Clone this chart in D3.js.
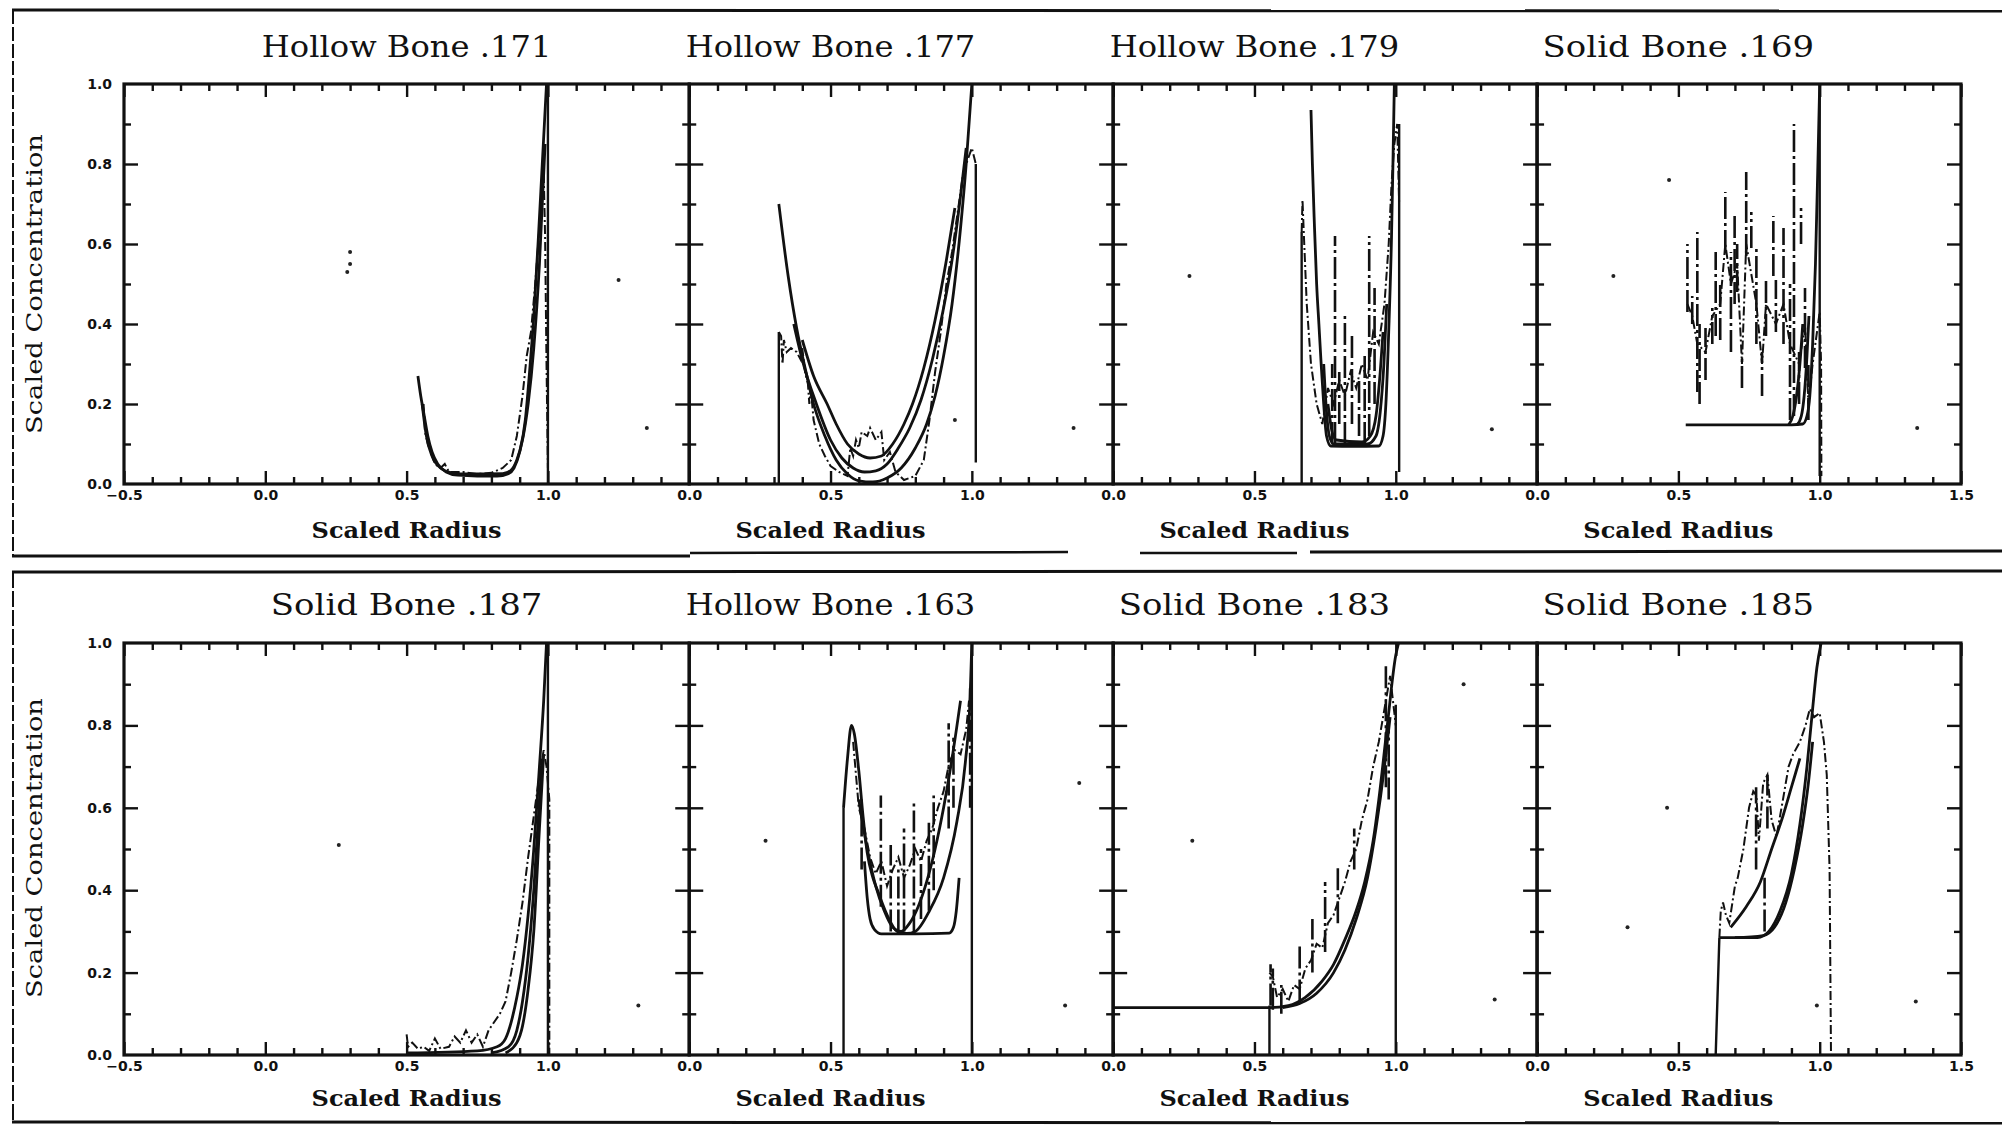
<!DOCTYPE html>
<html>
<head>
<meta charset="utf-8">
<script src="https://cdn.jsdelivr.net/npm/d3@7"></script>
<style>
  body { margin: 0; background: #fff; }
  svg { display: block; background: #fff; }
  .title { font-family: "DejaVu Serif", serif; font-size: 30px; fill: #111; }
  .xlab { font-family: "DejaVu Serif", serif; font-size: 23px; font-weight: bold; fill: #111; }
  .ylab { font-family: "DejaVu Serif", serif; font-size: 23px; fill: #111; }
  .tick text { font-family: "DejaVu Sans", sans-serif; font-size: 14px; font-weight: bold; fill: #111; }
  .tick line { stroke: #111; stroke-width: 2.4; }
</style>
</head>
<body>
<svg id="chart" width="2002" height="1126"></svg>
<script>
// panel titles, left to right, top row then bottom row
const titles = ["Hollow Bone .171", "Hollow Bone .177", "Hollow Bone .179", "Solid Bone .169",
                "Solid Bone .187", "Hollow Bone .163", "Solid Bone .183", "Solid Bone .185"];

const yTickLabels = [0.0, 0.2, 0.4, 0.6, 0.8, 1.0];
const xTickLabelsFirst = [-0.5, 0.0, 0.5, 1.0];
const xTickLabelsMid = [0.0, 0.5, 1.0];
const xTickLabelsLast = [0.0, 0.5, 1.0, 1.5];

// ---- Hollow Bone .171
const walls171 = [[[1.0, 0], [1.0, 1.0]]];
const model171a = [[0.54,0.27],[0.55,0.22],[0.56,0.18],[0.575,0.12],[0.59,0.08],[0.61,0.05],[0.64,0.03],[0.68,0.022],[0.75,0.02],[0.82,0.02],[0.86,0.026],[0.88,0.04],[0.90,0.08],[0.92,0.16],[0.935,0.28],[0.95,0.42],[0.965,0.6],[0.98,0.8],[0.995,1.0]];
const model171b = [[0.555,0.2],[0.57,0.12],[0.59,0.07],[0.62,0.04],[0.66,0.028],[0.72,0.025],[0.84,0.026],[0.87,0.035],[0.89,0.06],[0.91,0.11],[0.93,0.2],[0.95,0.34],[0.97,0.55],[0.99,0.85]];
const meas171 = [[0.56,0.2],[0.565,0.13],[0.575,0.1],[0.59,0.07],[0.60,0.05],[0.62,0.04],[0.635,0.05],[0.65,0.03],[0.70,0.03],[0.75,0.025],[0.80,0.028],[0.84,0.04],[0.87,0.06],[0.89,0.12],[0.91,0.22],[0.925,0.32],[0.94,0.38],[0.955,0.5],[0.97,0.64],[0.985,0.78],[0.99,0.62],[0.995,0.3],[1.0,0.04]];
const spikes171 = [];
const specks171 = [[0.30,0.58],[0.30,0.55],[0.29,0.53],[1.25,0.51],[1.35,0.14]];

// ---- Hollow Bone .177
const walls177 = [[[0.317, 0], [0.317, 0.38]], [[1.014, 0.054], [1.014, 0.80]]];
const model177a = [[0.317,0.70],[0.35,0.52],[0.38,0.39],[0.41,0.29],[0.44,0.20],[0.48,0.12],[0.52,0.06],[0.56,0.025],[0.60,0.008],[0.65,0.005],[0.70,0.015],[0.75,0.04],[0.80,0.09],[0.84,0.15],[0.87,0.22],[0.90,0.32],[0.93,0.45],[0.96,0.64],[0.98,0.8],[1.0,1.0]];
const model177b = [[0.37,0.40],[0.40,0.31],[0.45,0.2],[0.50,0.11],[0.54,0.065],[0.58,0.04],[0.62,0.03],[0.66,0.033],[0.70,0.05],[0.74,0.09],[0.78,0.14],[0.82,0.21],[0.86,0.31],[0.90,0.44],[0.93,0.56],[0.96,0.72],[0.98,0.84]];
const model177c = [[0.40,0.36],[0.44,0.27],[0.488,0.2],[0.52,0.15],[0.56,0.1],[0.60,0.075],[0.64,0.065],[0.68,0.07],[0.72,0.1],[0.76,0.15],[0.79,0.2],[0.83,0.29],[0.87,0.41],[0.91,0.56],[0.94,0.69]];
const meas177 = [[0.317,0.38],[0.325,0.37],[0.33,0.3],[0.335,0.36],[0.345,0.33],[0.36,0.34],[0.38,0.33],[0.395,0.31],[0.40,0.34],[0.41,0.28],[0.42,0.25],[0.425,0.2],[0.43,0.24],[0.44,0.16],[0.46,0.1],[0.48,0.07],[0.50,0.045],[0.53,0.03],[0.56,0.02],[0.57,0.09],[0.58,0.07],[0.59,0.11],[0.60,0.09],[0.61,0.13],[0.63,0.12],[0.64,0.14],[0.66,0.11],[0.68,0.13],[0.69,0.06],[0.71,0.08],[0.73,0.03],[0.76,0.01],[0.80,0.02],[0.83,0.06],[0.85,0.16],[0.87,0.28],[0.89,0.38],[0.91,0.5],[0.93,0.58],[0.95,0.68],[0.97,0.78],[0.99,0.82],[1.0,0.84],[1.014,0.80]];
const spikes177 = [];
const specks177 = [[0.94,0.16],[1.36,0.14]];

// ---- Hollow Bone .179
const walls179 = [[[0.667, 0], [0.667, 0.63]], [[1.012, 0.03], [1.012, 0.9]]];
const model179a = [[0.70,0.935],[0.705,0.8],[0.712,0.65],[0.72,0.5],[0.728,0.4],[0.736,0.3],[0.745,0.2],[0.755,0.12],[0.77,0.095],[0.85,0.094],[0.94,0.095],[0.955,0.12],[0.965,0.2],[0.975,0.38],[0.985,0.62],[0.99,0.8],[0.995,1.0]];
const model179b = [[0.745,0.3],[0.755,0.18],[0.765,0.12],[0.78,0.1],[0.9,0.1],[0.93,0.12],[0.945,0.18],[0.958,0.3],[0.968,0.45]];
const model179c = [[0.76,0.2],[0.775,0.13],[0.79,0.11],[0.88,0.105],[0.91,0.12],[0.93,0.17],[0.945,0.28],[0.955,0.38]];
const meas179 = [[0.667,0.63],[0.67,0.71],[0.675,0.62],[0.685,0.45],[0.70,0.3],[0.72,0.2],[0.74,0.15],[0.76,0.24],[0.78,0.2],[0.80,0.26],[0.82,0.22],[0.84,0.28],[0.86,0.24],[0.88,0.3],[0.90,0.26],[0.92,0.38],[0.94,0.35],[0.96,0.45],[0.975,0.6],[0.985,0.75],[0.995,0.85],[1.005,0.9],[1.012,0.7]];
const spikes179 = [[0.785,0.1,0.62],[0.82,0.1,0.43],[0.845,0.15,0.37],[0.89,0.1,0.33],[0.906,0.12,0.62],[0.925,0.2,0.49],[0.775,0.1,0.3],[0.80,0.15,0.28],[0.87,0.12,0.26]];
const specks179 = [[0.27,0.52],[1.34,0.137]];

// ---- Solid Bone .169
const walls169 = [[[1.0, 0.02], [1.0, 1.0]]];
const model169a = [[0.526,0.148],[0.9,0.148],[0.94,0.15],[0.955,0.17],[0.965,0.22],[0.975,0.35],[0.985,0.55],[0.993,0.78],[1.0,1.0]];
const model169b = [[0.89,0.148],[0.905,0.17],[0.918,0.22],[0.93,0.3],[0.94,0.4]];
const model169c = [[0.92,0.148],[0.935,0.17],[0.945,0.22],[0.955,0.32],[0.962,0.42]];
const meas169 = [[0.532,0.45],[0.549,0.42],[0.567,0.35],[0.596,0.33],[0.62,0.42],[0.648,0.45],[0.666,0.6],[0.686,0.5],[0.708,0.55],[0.725,0.3],[0.74,0.6],[0.776,0.45],[0.796,0.3],[0.81,0.45],[0.845,0.4],[0.872,0.45],[0.895,0.35],[0.927,0.3],[0.948,0.4],[0.96,0.2],[0.975,0.3],[1.0,0.43],[1.005,0.3],[1.006,0.02]];
const spikes169 = [[0.532,0.43,0.60],[0.549,0.40,0.47],[0.567,0.23,0.63],[0.575,0.20,0.40],[0.596,0.26,0.39],[0.62,0.35,0.44],[0.632,0.37,0.58],[0.648,0.36,0.50],[0.666,0.58,0.73],[0.686,0.33,0.58],[0.699,0.45,0.67],[0.708,0.48,0.60],[0.725,0.24,0.32],[0.74,0.57,0.78],[0.758,0.59,0.68],[0.776,0.35,0.59],[0.796,0.22,0.33],[0.81,0.37,0.51],[0.836,0.52,0.67],[0.845,0.38,0.51],[0.872,0.35,0.64],[0.895,0.16,0.50],[0.909,0.17,0.90],[0.927,0.20,0.33],[0.934,0.60,0.69],[0.948,0.29,0.49],[0.96,0.16,0.30]];
const specks169 = [[0.467,0.76],[0.27,0.52],[1.345,0.14]];

// ---- Solid Bone .187
const walls187 = [[[1.0, 0], [1.0, 1.0]]];
const model187a = [[0.5,0.005],[0.75,0.01],[0.82,0.02],[0.85,0.04],[0.87,0.08],[0.89,0.14],[0.91,0.22],[0.93,0.34],[0.95,0.5],[0.97,0.7],[0.985,0.86],[0.995,1.0]];
const model187b = [[0.8,0.005],[0.86,0.02],[0.89,0.06],[0.91,0.13],[0.93,0.24],[0.95,0.4],[0.97,0.62],[0.98,0.72]];
const model187c = [[0.85,0.005],[0.89,0.03],[0.91,0.07],[0.93,0.16],[0.95,0.3],[0.97,0.55],[0.985,0.73]];
const meas187 = [[0.5,0.05],[0.505,0.02],[0.52,0.03],[0.54,0.015],[0.56,0.02],[0.58,0.01],[0.6,0.04],[0.62,0.015],[0.65,0.02],[0.67,0.045],[0.69,0.03],[0.71,0.06],[0.73,0.03],[0.75,0.05],[0.77,0.02],[0.79,0.06],[0.81,0.08],[0.83,0.1],[0.85,0.13],[0.87,0.2],[0.89,0.28],[0.91,0.37],[0.93,0.48],[0.95,0.58],[0.97,0.68],[0.985,0.74],[0.995,0.7],[1.005,0.62],[1.005,0.0]];
const spikes187 = [];
const specks187 = [[0.26,0.51],[1.32,0.12]];

// ---- Hollow Bone .163
const walls163 = [[[0.546, 0], [0.546, 0.6]], [[1.0, 0], [1.0, 1.0]]];
const model163a = [[0.546,0.6],[0.56,0.72],[0.574,0.8],[0.584,0.78],[0.60,0.69],[0.615,0.58],[0.63,0.49],[0.65,0.43],[0.666,0.40],[0.70,0.34],[0.736,0.30],[0.77,0.295],[0.80,0.30],[0.85,0.35],[0.90,0.43],[0.947,0.566],[0.977,0.71],[0.994,0.87],[1.0,1.0]];
const model163b = [[0.62,0.47],[0.63,0.38],[0.64,0.33],[0.655,0.305],[0.68,0.294],[0.80,0.294],[0.92,0.296],[0.935,0.31],[0.945,0.35],[0.955,0.43]];
const model163c = [[0.60,0.62],[0.63,0.5],[0.66,0.41],[0.69,0.35],[0.72,0.31],[0.75,0.30],[0.78,0.32],[0.81,0.36],[0.84,0.42],[0.87,0.5],[0.90,0.6],[0.93,0.72],[0.96,0.86]];
const meas163 = [[0.58,0.76],[0.6,0.6],[0.62,0.55],[0.64,0.48],[0.66,0.44],[0.68,0.47],[0.70,0.41],[0.72,0.45],[0.74,0.48],[0.76,0.43],[0.78,0.46],[0.80,0.5],[0.82,0.47],[0.84,0.52],[0.86,0.55],[0.88,0.6],[0.9,0.64],[0.92,0.71],[0.94,0.74],[0.96,0.73],[0.98,0.79],[0.99,0.86]];
const spikes163 = [[0.61,0.45,0.62],[0.678,0.36,0.63],[0.713,0.3,0.51],[0.74,0.3,0.45],[0.76,0.3,0.55],[0.795,0.3,0.62],[0.82,0.33,0.50],[0.848,0.35,0.57],[0.865,0.4,0.63],[0.918,0.55,0.805],[0.935,0.6,0.77],[0.994,0.6,0.89]];
const specks163 = [[0.27,0.52],[1.33,0.12],[1.38,0.66]];

// ---- Solid Bone .183
const walls183 = [[[0.553, 0], [0.553, 0.12]], [[1.0, 0], [1.0, 0.85]]];
const model183a = [[0.0,0.115],[0.55,0.115],[0.62,0.12],[0.68,0.14],[0.74,0.18],[0.78,0.22],[0.82,0.28],[0.86,0.35],[0.89,0.42],[0.92,0.52],[0.94,0.62],[0.97,0.8],[1.0,0.97],[1.01,1.0]];
const model183b = [[0.60,0.115],[0.66,0.125],[0.72,0.15],[0.78,0.2],[0.82,0.255],[0.86,0.33],[0.90,0.43],[0.93,0.55],[0.96,0.7],[0.98,0.82]];
const meas183 = [[0.553,0.2],[0.565,0.19],[0.58,0.14],[0.60,0.16],[0.62,0.13],[0.64,0.17],[0.66,0.16],[0.68,0.21],[0.70,0.23],[0.72,0.27],[0.74,0.26],[0.76,0.32],[0.78,0.34],[0.80,0.38],[0.82,0.42],[0.84,0.47],[0.86,0.5],[0.88,0.57],[0.90,0.62],[0.92,0.7],[0.94,0.76],[0.96,0.84],[0.98,0.92],[0.99,0.86],[1.0,0.8]];
const spikes183 = [[0.557,0.12,0.22],[0.565,0.11,0.21],[0.595,0.1,0.17],[0.66,0.13,0.27],[0.705,0.2,0.33],[0.75,0.25,0.42],[0.795,0.32,0.46],[0.853,0.45,0.55],[0.965,0.65,0.95],[0.975,0.62,0.8]];
const specks183 = [[0.28,0.52],[1.24,0.9],[1.35,0.135]];

// ---- Solid Bone .185
const walls185 = [[[0.632, 0], [0.645, 0.285]]];
const model185a = [[0.645,0.285],[0.78,0.285],[0.82,0.3],[0.86,0.35],[0.9,0.44],[0.93,0.56],[0.955,0.7],[0.975,0.84],[0.99,0.94],[1.005,1.0]];
const model185b = [[0.70,0.285],[0.80,0.29],[0.84,0.31],[0.88,0.37],[0.91,0.45],[0.94,0.56],[0.96,0.66],[0.975,0.76]];
const model185c = [[0.685,0.31],[0.74,0.36],[0.79,0.42],[0.83,0.5],[0.87,0.58],[0.9,0.65],[0.93,0.72]];
const meas185 = [[0.645,0.285],[0.65,0.35],[0.658,0.37],[0.668,0.34],[0.68,0.32],[0.70,0.41],[0.71,0.43],[0.73,0.5],[0.75,0.6],[0.765,0.64],[0.776,0.63],[0.785,0.52],[0.80,0.66],[0.815,0.68],[0.83,0.57],[0.847,0.53],[0.87,0.62],[0.89,0.7],[0.906,0.73],[0.93,0.76],[0.95,0.8],[0.965,0.84],[0.98,0.82],[1.0,0.83],[1.015,0.76],[1.025,0.68],[1.035,0.45],[1.04,0.0]];
const spikes185 = [[0.805,0.3,0.43],[0.775,0.45,0.65],[0.815,0.55,0.68]];
const specks185 = [[0.46,0.6],[0.32,0.31],[1.34,0.13],[0.99,0.12]];

// table for the drawing loop
const panels = [
  {walls: walls171, models: [model171a, model171b], meas: meas171, spikes: spikes171, specks: specks171},
  {walls: walls177, models: [model177a, model177b, model177c], meas: meas177, spikes: spikes177, specks: specks177},
  {walls: walls179, models: [model179a, model179b, model179c], meas: meas179, spikes: spikes179, specks: specks179},
  {walls: walls169, models: [model169a, model169b, model169c], meas: meas169, spikes: spikes169, specks: specks169},
  {walls: walls187, models: [model187a, model187b, model187c], meas: meas187, spikes: spikes187, specks: specks187},
  {walls: walls163, models: [model163a, model163b, model163c], meas: meas163, spikes: spikes163, specks: specks163},
  {walls: walls183, models: [model183a, model183b], meas: meas183, spikes: spikes183, specks: specks183},
  {walls: walls185, models: [model185a, model185b, model185c], meas: meas185, spikes: spikes185, specks: specks185}
];

const svg = d3.select("#chart");
const plotLeft = 124, plotRight = 1961;
const unit = (plotRight - plotLeft) / 6.5;
const rows = [
  {top: 84, bottom: 484, titleY: 57, labelY: 538, ylabY: 284},
  {top: 643, bottom: 1055, titleY: 615, labelY: 1106, ylabY: 848}
];
const fmt = d3.format(".1f");

// scanned page rules
const rules = svg.append("g").attr("stroke", "#111").attr("fill", "none");
rules.append("line").attr("x1", 12).attr("x2", 2002).attr("y1", 10).attr("y2", 11).attr("stroke-width", 3);
rules.append("line").attr("x1", 13).attr("x2", 13).attr("y1", 10).attr("y2", 556).attr("stroke-width", 2).attr("stroke-dasharray", "14,3");
rules.append("line").attr("x1", 12).attr("x2", 690).attr("y1", 556).attr("y2", 556).attr("stroke-width", 3);
rules.append("line").attr("x1", 690).attr("x2", 1068).attr("y1", 553).attr("y2", 552).attr("stroke-width", 2.5);
rules.append("line").attr("x1", 1140).attr("x2", 1297).attr("y1", 553).attr("y2", 553).attr("stroke-width", 2.5);
rules.append("line").attr("x1", 1310).attr("x2", 2002).attr("y1", 552).attr("y2", 551).attr("stroke-width", 3);
rules.append("line").attr("x1", 12).attr("x2", 2002).attr("y1", 572).attr("y2", 571).attr("stroke-width", 3);
rules.append("line").attr("x1", 13).attr("x2", 13).attr("y1", 572).attr("y2", 1122).attr("stroke-width", 2).attr("stroke-dasharray", "16,3");
rules.append("line").attr("x1", 12).attr("x2", 2002).attr("y1", 1122).attr("y2", 1123).attr("stroke-width", 3);

let left = plotLeft;
panels.forEach((p, i) => {
  const row = rows[Math.floor(i / 4)];
  const col = i % 4;
  if (col === 0) left = plotLeft;
  const x0 = col === 0 ? -0.5 : 0.0;
  const right = left + (1.5 - x0) * unit;
  const x = d3.scaleLinear().domain([x0, 1.5]).range([left, right]);
  const y = d3.scaleLinear().domain([0, 1]).range([row.bottom, row.top]);
  left = right;

  const g = svg.append("g");

  const minorX = d3.range(Math.round(x0 * 10), 16).map(v => v / 10).filter(v => Math.abs(v * 2 - Math.round(v * 2)) > 1e-6);
  const majorX = d3.range(Math.round(x0 * 2), 4).map(v => v / 2);
  const minorY = d3.range(1, 10).map(v => v / 10).filter(v => (Math.round(v * 10) % 2) === 1);
  const majorY = [0.2, 0.4, 0.6, 0.8];
  const xLabels = col === 0 ? xTickLabelsFirst : (col === 3 ? xTickLabelsLast : xTickLabelsMid);

  const clean = s => s.select(".domain").remove();

  // x ticks, bottom and top, pointing inward
  g.append("g").attr("transform", `translate(0,${row.bottom})`)
    .call(d3.axisBottom(x).tickValues(minorX).tickSize(-7).tickFormat("")).call(clean);
  g.append("g").attr("transform", `translate(0,${row.bottom})`)
    .call(d3.axisBottom(x).tickValues(majorX).tickSize(-13).tickPadding(6)
      .tickFormat(d => xLabels.some(v => Math.abs(v - d) < 1e-6) ? fmt(d) : "")).call(clean)
    .attr("font-family", null).attr("font-size", null);
  g.append("g").attr("transform", `translate(0,${row.top})`)
    .call(d3.axisTop(x).tickValues(minorX).tickSize(-7).tickFormat("")).call(clean);
  g.append("g").attr("transform", `translate(0,${row.top})`)
    .call(d3.axisTop(x).tickValues(majorX).tickSize(-13).tickFormat("")).call(clean);

  // y ticks, left and right, pointing inward
  g.append("g").attr("transform", `translate(${x(x0)},0)`)
    .call(d3.axisLeft(y).tickValues(minorY).tickSize(-7).tickFormat("")).call(clean);
  g.append("g").attr("transform", `translate(${x(x0)},0)`)
    .call(d3.axisLeft(y).tickValues(majorY).tickSize(-14).tickFormat("")).call(clean);
  g.append("g").attr("transform", `translate(${x(1.5)},0)`)
    .call(d3.axisRight(y).tickValues(minorY).tickSize(-7).tickFormat("")).call(clean);
  g.append("g").attr("transform", `translate(${x(1.5)},0)`)
    .call(d3.axisRight(y).tickValues(majorY).tickSize(-14).tickFormat("")).call(clean);

  if (col === 0) {
    g.append("g").attr("transform", `translate(${x(x0) - 2},0)`)
      .call(d3.axisLeft(y).tickValues(yTickLabels).tickSize(0).tickPadding(10).tickFormat(fmt)).call(clean)
      .attr("font-family", null).attr("font-size", null);
    g.append("text").attr("class", "ylab")
      .attr("transform", `translate(42,${row.ylabY}) rotate(-90)`)
      .attr("text-anchor", "middle")
      .attr("textLength", 300).attr("lengthAdjust", "spacingAndGlyphs")
      .text("Scaled Concentration");
  }

  // frame
  g.append("rect")
    .attr("x", x(x0)).attr("y", y(1))
    .attr("width", x(1.5) - x(x0)).attr("height", y(0) - y(1))
    .attr("fill", "none").attr("stroke", "#111").attr("stroke-width", 3.2);

  // title and x label, centred on r = 0.5
  g.append("text").attr("class", "title")
    .attr("x", x(0.5)).attr("y", row.titleY).attr("text-anchor", "middle")
    .attr("textLength", titles[i].length * 18.1).attr("lengthAdjust", "spacingAndGlyphs")
    .text(titles[i]);
  g.append("text").attr("class", "xlab")
    .attr("x", x(0.5)).attr("y", row.labelY).attr("text-anchor", "middle")
    .attr("textLength", 190).attr("lengthAdjust", "spacingAndGlyphs")
    .text("Scaled Radius");

  const straight = d3.line().x(d => x(d[0])).y(d => y(d[1]));
  const smooth = d3.line().x(d => x(d[0])).y(d => y(d[1])).curve(d3.curveMonotoneX);

  // bone walls
  g.selectAll(".wall").data(p.walls).join("path").attr("class", "wall")
    .attr("d", straight).attr("fill", "none").attr("stroke", "#111").attr("stroke-width", 2.4);

  // measured profile
  g.append("path").datum(p.meas)
    .attr("d", straight).attr("fill", "none").attr("stroke", "#111")
    .attr("stroke-width", 2).attr("stroke-dasharray", "9,3,2,3");

  g.selectAll(".spike").data(p.spikes).join("line").attr("class", "spike")
    .attr("x1", d => x(d[0])).attr("x2", d => x(d[0]))
    .attr("y1", d => y(d[1])).attr("y2", d => y(d[2]))
    .attr("stroke", "#111").attr("stroke-width", 2.6).attr("stroke-dasharray", "22,4,3,4");

  // model curves
  g.selectAll(".model").data(p.models).join("path").attr("class", "model")
    .attr("d", smooth).attr("fill", "none").attr("stroke", "#111").attr("stroke-width", 2.8);

  // scan specks
  g.selectAll(".speck").data(p.specks).join("circle").attr("class", "speck")
    .attr("cx", d => x(d[0])).attr("cy", d => y(d[1])).attr("r", 2).attr("fill", "#222");
});
</script>
</body>
</html>
